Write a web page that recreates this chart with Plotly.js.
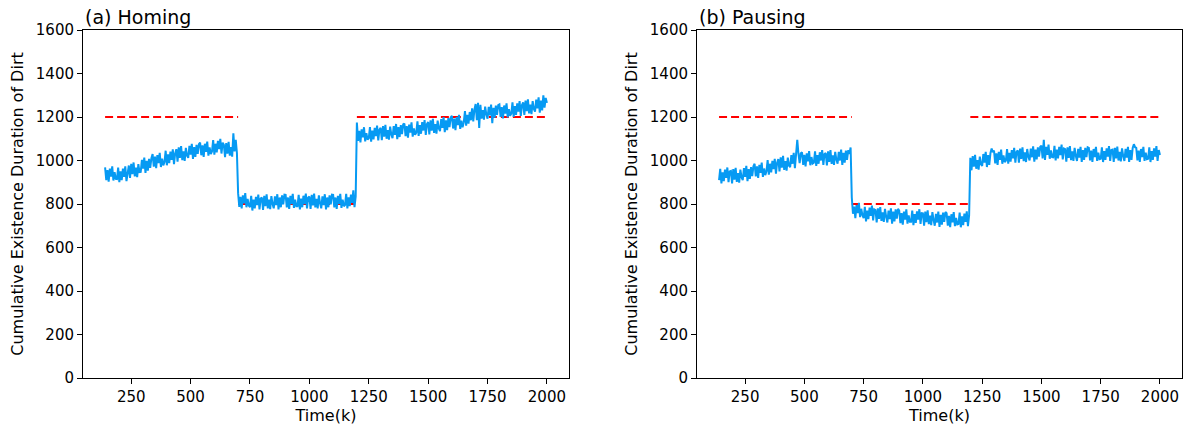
<!DOCTYPE html>
<html>
<head>
<meta charset="utf-8">
<script src="https://cdn.plot.ly/plotly-3.0.1.min.js"></script>
<style>html,body{margin:0;padding:0;background:#fff;}#chart{width:1189px;height:426px;}</style>
</head>
<body>
<div id="chart"></div>
<script>
// Sampling grid (time in k): one value every 5k from 140k to 2000k
const timeStart = 140;
const timeStep = 5;

// (a) Homing – cumulative existence duration of dirt
const homingValues = [
  // 140 .. 695
  968, 910, 956, 903, 963, 926, 973, 908, 946, 916,
  915, 967, 900, 950, 910, 963, 925, 973, 905, 955,
  977, 920, 985, 937, 991, 927, 967, 923, 983, 947,
  948, 1003, 963, 1013, 943, 998, 953, 1008, 966, 1011,
  1030, 972, 1018, 965, 1025, 988, 1035, 970, 1008, 978,
  993, 1045, 978, 1028, 988, 1041, 1003, 1051, 983, 1033,
  1052, 995, 1060, 1012, 1066, 1002, 1042, 998, 1058, 1022,
  1012, 1067, 1027, 1077, 1007, 1062, 1017, 1072, 1030, 1075,
  1082, 1024, 1070, 1017, 1077, 1040, 1087, 1022, 1060, 1030,
  1042, 1094, 1027, 1077, 1037, 1090, 1052, 1100, 1032, 1082,
  1072, 1015, 1080, 1032, 1086, 1022, 1062, 1018, 1125, 1042,
  1095, 1035,
  // 700 .. 1195
  850, 787, 833, 780, 840, 803, 850, 785, 823, 793,
  785, 837, 770, 820, 780, 833, 795, 843, 775, 825,
  830, 773, 838, 790, 844, 780, 820, 776, 836, 800,
  780, 835, 795, 845, 775, 830, 785, 840, 798, 843,
  842, 784, 830, 777, 837, 800, 847, 782, 820, 790,
  790, 842, 775, 825, 785, 838, 800, 848, 780, 830,
  834, 777, 842, 794, 848, 784, 824, 780, 840, 804,
  780, 835, 795, 845, 775, 830, 785, 840, 798, 843,
  842, 784, 830, 777, 837, 800, 847, 782, 820, 790,
  795, 847, 780, 830, 790, 843, 805, 863, 785, 835,
  // 1200 .. 2000
  1175, 1090, 1136, 1083, 1143, 1106, 1153, 1088, 1126, 1096,
  1102, 1154, 1087, 1137, 1097, 1150, 1112, 1160, 1092, 1142,
  1150, 1093, 1158, 1110, 1164, 1100, 1140, 1096, 1156, 1120,
  1103, 1158, 1118, 1168, 1098, 1153, 1108, 1163, 1121, 1166,
  1170, 1112, 1158, 1105, 1165, 1128, 1175, 1110, 1148, 1118,
  1128, 1180, 1113, 1163, 1123, 1176, 1138, 1186, 1118, 1168,
  1177, 1120, 1185, 1137, 1191, 1127, 1167, 1123, 1183, 1147,
  1135, 1190, 1150, 1200, 1130, 1185, 1140, 1195, 1153, 1198,
  1205, 1147, 1193, 1140, 1200, 1163, 1210, 1145, 1183, 1153,
  1175, 1227, 1160, 1210, 1170, 1223, 1185, 1240, 1180, 1235,
  1260, 1185, 1265, 1150, 1256, 1192, 1232, 1188, 1248, 1212,
  1192, 1247, 1207, 1257, 1172, 1242, 1197, 1252, 1210, 1255,
  1258, 1200, 1246, 1193, 1253, 1216, 1263, 1198, 1236, 1206,
  1215, 1267, 1200, 1250, 1210, 1263, 1225, 1273, 1205, 1255,
  1267, 1210, 1275, 1227, 1281, 1217, 1257, 1213, 1273, 1237,
  1225, 1280, 1240, 1290, 1220, 1275, 1230, 1300, 1243, 1288,
  1265
];

// (b) Pausing – cumulative existence duration of dirt
const pausingValues = [
  // 140 .. 695
  910, 962, 895, 945, 905, 958, 920, 968, 900, 950,
  952, 895, 960, 912, 966, 902, 942, 898, 958, 922,
  910, 965, 925, 975, 905, 960, 915, 970, 928, 973,
  985, 927, 973, 920, 980, 943, 990, 925, 963, 933,
  950, 1002, 935, 985, 945, 998, 960, 1008, 940, 990,
  1007, 950, 1015, 967, 1021, 957, 997, 953, 1013, 977,
  970, 1025, 985, 1035, 965, 1020, 1095, 1030, 988, 1033,
  1038, 980, 1026, 973, 1033, 996, 1043, 978, 1016, 986,
  990, 1042, 975, 1025, 985, 1038, 1000, 1048, 980, 1030,
  1034, 977, 1042, 994, 1048, 984, 1024, 980, 1040, 1004,
  985, 1040, 1000, 1050, 980, 1035, 990, 1045, 1003, 1048,
  1030, 1060,
  // 700 .. 1195
  830, 755, 788, 735, 795, 758, 805, 740, 778, 748,
  735, 787, 720, 770, 730, 783, 745, 793, 725, 775,
  772, 715, 780, 732, 786, 722, 762, 718, 778, 742,
  715, 770, 730, 780, 710, 765, 720, 775, 733, 778,
  770, 712, 758, 705, 765, 728, 775, 710, 748, 718,
  718, 770, 703, 753, 713, 766, 728, 776, 708, 758,
  757, 700, 765, 717, 771, 707, 747, 703, 763, 727,
  700, 755, 715, 765, 695, 750, 705, 760, 718, 763,
  758, 700, 746, 693, 753, 716, 763, 698, 736, 706,
  708, 760, 693, 743, 703, 756, 718, 766, 698, 748,
  // 1200 .. 2000
  1012, 955, 1020, 972, 1026, 962, 1002, 958, 1018, 982,
  975, 1030, 990, 1040, 970, 1025, 980, 1035, 1055, 1038,
  1045, 987, 1033, 980, 1040, 1003, 1050, 985, 1023, 993,
  1000, 1052, 985, 1035, 995, 1048, 1010, 1058, 990, 1040,
  1047, 990, 1055, 1007, 1061, 997, 1037, 993, 1053, 1017,
  1000, 1055, 1015, 1065, 995, 1050, 1005, 1060, 1018, 1063,
  1068, 1010, 1095, 1003, 1063, 1026, 1073, 1008, 1046, 1016,
  1015, 1067, 1000, 1050, 1010, 1063, 1025, 1073, 1005, 1055,
  1052, 995, 1060, 1012, 1066, 1002, 1042, 998, 1058, 1022,
  998, 1053, 1013, 1063, 993, 1048, 1003, 1058, 1016, 1061,
  1058, 1000, 1046, 993, 1053, 1016, 1063, 998, 1036, 1006,
  1008, 1060, 993, 1043, 1003, 1056, 1018, 1066, 998, 1048,
  1050, 993, 1058, 1010, 1064, 1000, 1040, 996, 1056, 1020,
  998, 1053, 1013, 1063, 993, 1048, 1003, 1058, 1075, 1061,
  1058, 1000, 1046, 993, 1053, 1016, 1063, 998, 1036, 1006,
  1008, 1060, 993, 1043, 1003, 1056, 1018, 1066, 998, 1048,
  1025
];

// Reference (target) levels, dashed red
const refSegmentsX = [[140, 700], [700, 1200], [1200, 2000]];
const refSegmentsY = [1200, 800, 1200];

const panelTitles = ['(a) Homing', '(b) Pausing'];
const xTickVals = [250, 500, 750, 1000, 1250, 1500, 1750, 2000];
const yTickVals = [0, 200, 400, 600, 800, 1000, 1200, 1400, 1600];
const xLabel = 'Time(k)';
const yLabel = 'Cumulative Existence Duration of Dirt';

const timeK = homingValues.map((_, i) => timeStart + i * timeStep);

const BLUE = '#069AF3';
const RED = '#FF0000';
const FONT = 'DejaVu Sans, sans-serif';

const traces = [];
[['x', 'y', homingValues], ['x2', 'y2', pausingValues]].forEach(([xa, ya, vals]) => {
  const rx = [], ry = [];
  refSegmentsX.forEach((seg, k) => {
    rx.push(seg[0], seg[1], null);
    ry.push(refSegmentsY[k], refSegmentsY[k], null);
  });
  traces.push({
    x: rx, y: ry, xaxis: xa, yaxis: ya, type: 'scatter', mode: 'lines',
    line: {color: RED, width: 2, dash: '8px,4px'}, hoverinfo: 'skip', showlegend: false
  });
  traces.push({
    x: timeK, y: vals, xaxis: xa, yaxis: ya, type: 'scatter', mode: 'lines',
    line: {color: BLUE, width: 2}, showlegend: false
  });
});

function xAxis(domain, anchor) {
  return {
    domain: domain, anchor: anchor, range: [47, 2093],
    tickmode: 'array', tickvals: xTickVals, ticktext: xTickVals.map(String),
    ticks: 'outside', ticklen: 5, tickwidth: 1, tickcolor: '#000',
    showline: true, linecolor: '#000', linewidth: 1, mirror: true,
    showgrid: false, zeroline: false,
    tickfont: {family: FONT, size: 15, color: '#000'},
    title: {text: xLabel, font: {family: FONT, size: 16, color: '#000'}, standoff: 3},
    automargin: false
  };
}
function yAxis(anchor) {
  return {
    domain: [48 / 426, 396 / 426], anchor: anchor, range: [0, 1600],
    tickmode: 'array', tickvals: yTickVals, ticktext: yTickVals.map(String),
    ticks: 'outside', ticklen: 5, tickwidth: 1, tickcolor: '#000',
    showline: true, linecolor: '#000', linewidth: 1, mirror: true,
    showgrid: false, zeroline: false,
    tickfont: {family: FONT, size: 15, color: '#000'},
    title: {text: yLabel, font: {family: FONT, size: 16, color: '#000'}, standoff: 8},
    automargin: false
  };
}

const layout = {
  width: 1189, height: 426,
  margin: {l: 0, r: 0, t: 0, b: 0},
  paper_bgcolor: '#fff', plot_bgcolor: '#fff',
  showlegend: false,
  xaxis: xAxis([83 / 1189, 569 / 1189], 'y'),
  yaxis: yAxis('x'),
  xaxis2: xAxis([697 / 1189, 1182 / 1189], 'y2'),
  yaxis2: yAxis('x2'),
  annotations: [
    {text: panelTitles[0], xref: 'paper', yref: 'paper', x: 83 / 1189, y: 1 - 17 / 426,
     xanchor: 'left', yanchor: 'middle', showarrow: false, font: {family: FONT, size: 19, color: '#000'}},
    {text: panelTitles[1], xref: 'paper', yref: 'paper', x: 697 / 1189, y: 1 - 17 / 426,
     xanchor: 'left', yanchor: 'middle', showarrow: false, font: {family: FONT, size: 19, color: '#000'}}
  ]
};

Plotly.newPlot('chart', traces, layout, {staticPlot: true, displayModeBar: false});
</script>
</body>
</html>
